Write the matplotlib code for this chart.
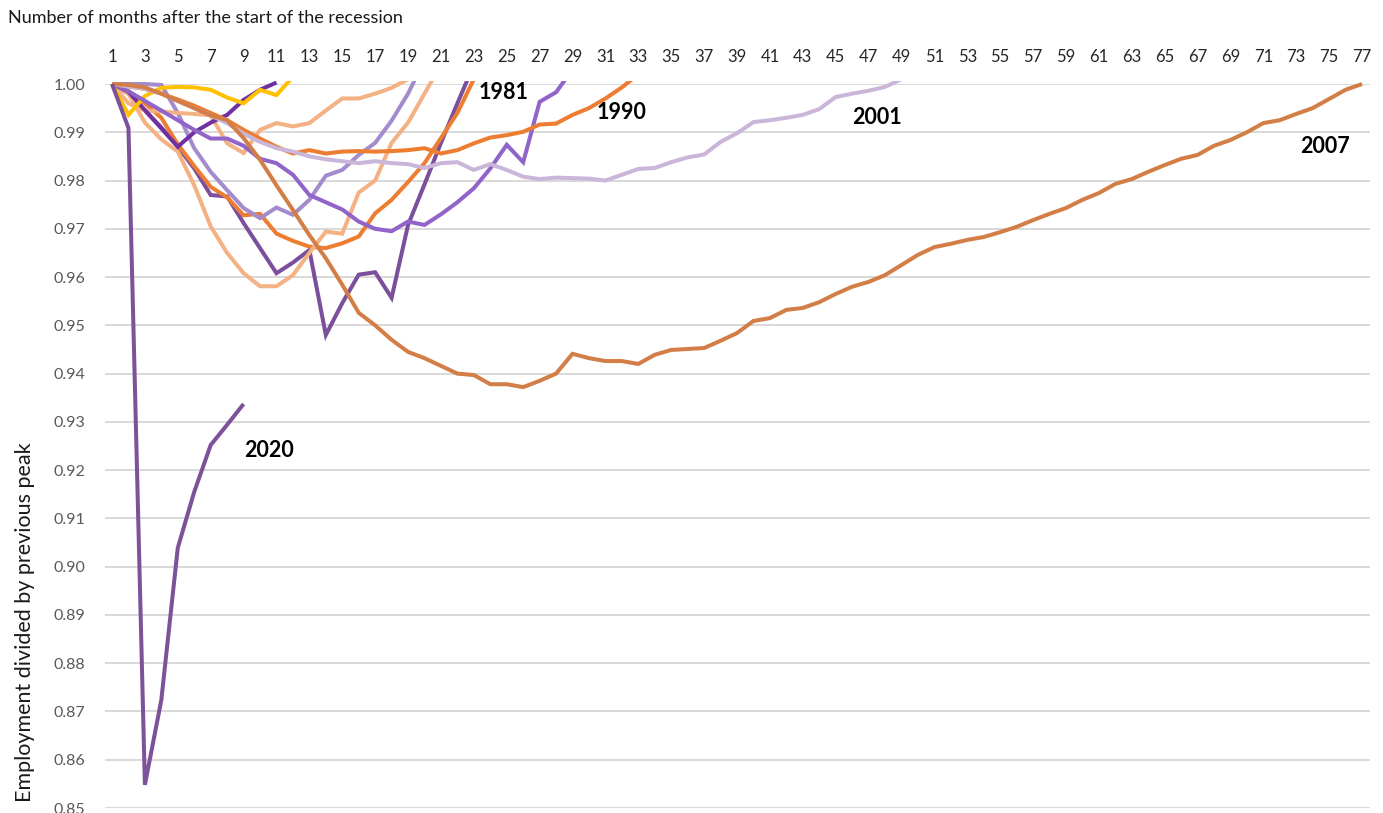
import matplotlib
matplotlib.use("Agg")
import matplotlib.pyplot as plt
from matplotlib.patches import Rectangle

plt.rcParams['font.family'] = ['Lato', 'DejaVu Sans']

# ---------------- data ----------------
s1948 = [1.000, 0.998, 0.9945, 0.991, 0.987, 0.9825, 0.977, 0.9767, 0.9712, 0.966, 0.9608, 0.963,
         0.9656, 0.948, 0.9546, 0.9605, 0.961, 0.9557, 0.9708, 0.9792, 0.9878, 0.996, 1.004]
s1953 = [1.000, 0.9985, 0.996, 0.993, 0.9875, 0.983, 0.9787, 0.9765, 0.9728, 0.9731, 0.969, 0.9675,
         0.9663, 0.966, 0.967, 0.9684, 0.9732, 0.976, 0.9797, 0.9836, 0.9888, 0.994, 1.001]
s1957 = [1.000, 0.998, 0.992, 0.9885, 0.986, 0.979, 0.9705, 0.965, 0.9608, 0.9581, 0.9581, 0.9604,
         0.965, 0.9694, 0.969, 0.9775, 0.980, 0.9878, 0.992, 0.998, 1.004]
s1960 = [1.000, 1.000, 1.000, 0.9998, 0.994, 0.9867, 0.9818, 0.978, 0.9743, 0.9722, 0.9744, 0.9729,
         0.976, 0.981, 0.9822, 0.9853, 0.9878, 0.9924, 0.998, 1.005]
s1969 = [1.000, 0.996, 0.9945, 0.9943, 0.994, 0.9938, 0.9935, 0.9877, 0.9857, 0.9905, 0.9919, 0.9912,
         0.9919, 0.9945, 0.997, 0.997, 0.998, 0.9992, 1.001]
s1973 = [1.000, 0.9984, 0.9946, 0.9908, 0.987, 0.990, 0.992, 0.9936, 0.9967, 0.9988, 1.0003]
s1980 = [1.000, 0.9936, 0.9975, 0.9992, 0.9994, 0.9993, 0.9988, 0.9972, 0.996, 0.9988, 0.9977, 1.0015]
s1981 = [1.000, 0.9985, 0.9965, 0.9945, 0.9925, 0.9905, 0.9887, 0.9887, 0.9872, 0.9845, 0.9836, 0.9812,
         0.977, 0.9755, 0.974, 0.9715, 0.970, 0.9695, 0.9715, 0.9708, 0.973, 0.9755, 0.9784, 0.9825,
         0.9874, 0.9838, 0.9963, 0.9983, 1.003]
s1990 = [1.000, 0.9995, 0.999, 0.998, 0.9968, 0.9955, 0.994, 0.9925, 0.9905, 0.9887, 0.987, 0.9856,
         0.9863, 0.9856, 0.986, 0.9861, 0.986, 0.9861, 0.9863, 0.9867, 0.9856, 0.9863, 0.9877, 0.9889,
         0.9894, 0.9901, 0.9916, 0.9918, 0.9936, 0.995, 0.997, 0.9993, 1.002]
s2001 = [1.000, 0.9995, 0.999, 0.998, 0.9965, 0.995, 0.9935, 0.9919, 0.9897, 0.988, 0.9867, 0.986,
         0.985, 0.9844, 0.984, 0.9836, 0.984, 0.9836, 0.9834, 0.9826, 0.9836, 0.9838, 0.9822, 0.9834,
         0.9822, 0.9808, 0.9803, 0.9806, 0.9805, 0.9804, 0.980, 0.9812, 0.9824, 0.9826, 0.9838, 0.9848,
         0.9854, 0.988, 0.9898, 0.9921, 0.9925, 0.993, 0.9936, 0.9948, 0.9973, 0.998, 0.9986, 0.9994, 1.001]
s2007 = [1.000, 0.9998, 0.9993, 0.998, 0.9965, 0.995, 0.9935, 0.9925, 0.9888, 0.9843, 0.979, 0.9739,
         0.9687, 0.9639, 0.9584, 0.9526, 0.9500, 0.9470, 0.9445, 0.9432, 0.9416, 0.9400, 0.9397, 0.9378,
         0.9378, 0.9372, 0.9385, 0.9400, 0.9441, 0.9432, 0.9426, 0.9426, 0.9420, 0.9439, 0.9449, 0.9451,
         0.9453, 0.9468, 0.9484, 0.9509, 0.9515, 0.9532, 0.9536, 0.9548, 0.9565, 0.9580, 0.9590, 0.9604,
         0.9625, 0.9646, 0.9662, 0.9669, 0.9677, 0.9683, 0.9693, 0.9704, 0.9718, 0.9731, 0.9743, 0.9760,
         0.9774, 0.9793, 0.9803, 0.9818, 0.9832, 0.9845, 0.9853, 0.9872, 0.9884, 0.9900, 0.9919, 0.9925,
         0.9938, 0.9950, 0.9969, 0.9988, 1.0000]
s2020 = [1.000, 0.9909, 0.8548, 0.8724, 0.9039, 0.9155, 0.9252, 0.9294, 0.9337]

series = [s1948, s1953, s1957, s1960, s1969, s1973, s1980, s1981, s1990, s2001, s2007, s2020]
colors = ['#7B4F9B', '#ED7D31', '#F4B183', '#A48BCC', '#F4B183', '#7030A0', '#FFC000',
          '#9064C8', '#ED7D31', '#C9B6D9', '#D27E46', '#7E5298']

label_text = ['1981', '1990', '2001', '2007', '2020']
label_x = [24.83, 32.0, 47.5, 74.74, 10.54]
label_y = [0.99814, 0.9940, 0.99296, 0.98695, 0.92397]

x_ticks = list(range(1, 78, 2))
y_ticks = [0.85, 0.86, 0.87, 0.88, 0.89, 0.90, 0.91, 0.92, 0.93, 0.94, 0.95, 0.96, 0.97, 0.98, 0.99, 1.00]

# ---------------- figure ----------------
W, H = 1383, 813
fig = plt.figure(figsize=(W / 100, H / 100), dpi=100)
ax = fig.add_axes([105 / W, 1 - 808 / H, (1370 - 105) / W, (808 - 84) / H])

ax.set_xlim(1 - 7 / 16.45, 77 + 8 / 16.45)
ax.set_ylim(0.85, 1.00)

for v in y_ticks:
    ax.axhline(v, color='#D9D9D9', lw=1.4, zorder=0)

clip = Rectangle((0, -0.01), 1, 1.01 + 2.5 / 724, transform=ax.transAxes, fill=False)
ax.add_artist(clip)
clip.set_visible(False)

for s, c in zip(series, colors):
    months = list(range(1, len(s) + 1))
    ln, = ax.plot(months, s, color=c, lw=2.9, solid_joinstyle='miter', solid_capstyle='butt', zorder=2)
    ln.set_clip_path(clip)

for t, x, y in zip(label_text, label_x, label_y):
    ax.text(x, y, t, ha='center', va='center', fontsize=15.5, fontweight='bold', color='#000000', zorder=3)

ax.xaxis.tick_top()
ax.set_xticks(x_ticks)
ax.set_xticklabels([str(v) for v in x_ticks])
ax.set_yticks(y_ticks)
ax.set_yticklabels([f"{v:.2f}" for v in y_ticks])
ax.tick_params(axis='x', length=0, pad=14, labelsize=12, labelcolor='#262626')
ax.tick_params(axis='y', length=0, pad=14, labelsize=11.5, labelcolor='#595959')
for sp in ax.spines.values():
    sp.set_visible(False)

fig.text(8 / W, 1 - 18 / H, 'Number of months after the start of the recession',
         ha='left', va='center', fontsize=13, color='#1a1a1a')
fig.text(25 / W, 1 - 622 / H, 'Employment divided by previous peak',
         ha='center', va='center', rotation=90, fontsize=15.5, color='#1a1a1a')

fig.savefig('out.png', dpi=100)
